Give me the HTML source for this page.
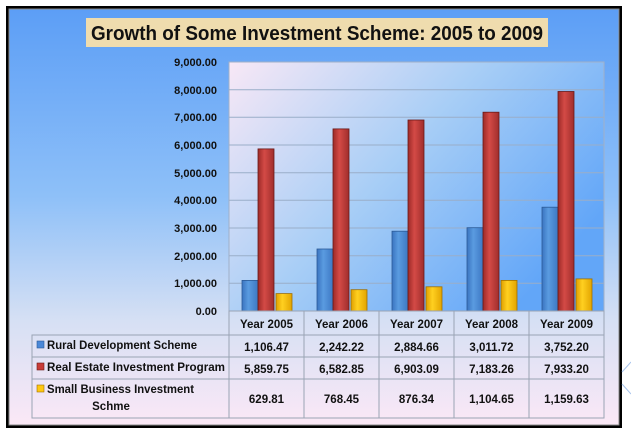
<!DOCTYPE html>
<html><head><meta charset="utf-8"><style>
html,body{margin:0;padding:0;background:#fff;width:631px;height:440px;overflow:hidden}
svg{display:block}
text{font-family:"Liberation Sans",sans-serif;font-weight:bold;fill:#111}
</style></head><body>
<svg width="631" height="440" viewBox="0 0 631 440" xmlns="http://www.w3.org/2000/svg">
<defs>
<linearGradient id="bg" x1="0" y1="0" x2="0" y2="1">
<stop offset="0" stop-color="#5c9ef6"/><stop offset="0.45" stop-color="#8ec0f8"/><stop offset="0.75" stop-color="#d6e0f4"/><stop offset="1" stop-color="#fbe8f6"/>
</linearGradient>
<linearGradient id="pa" x1="0" y1="0" x2="1" y2="0.6">
<stop offset="0" stop-color="#f8e8f6"/><stop offset="0.5" stop-color="#a8cef6"/><stop offset="1" stop-color="#62a6f8"/>
</linearGradient>
<linearGradient id="bl" x1="0" x2="1"><stop offset="0" stop-color="#3a74c0"/><stop offset="0.4" stop-color="#5a9be0"/><stop offset="1" stop-color="#3d78c4"/></linearGradient>
<linearGradient id="rd" x1="0" x2="1"><stop offset="0" stop-color="#9c2a28"/><stop offset="0.4" stop-color="#d44a46"/><stop offset="1" stop-color="#a02e2c"/></linearGradient>
<linearGradient id="yl" x1="0" x2="1"><stop offset="0" stop-color="#e0a000"/><stop offset="0.4" stop-color="#ffd020"/><stop offset="1" stop-color="#e2a400"/></linearGradient>
</defs>
<rect x="6" y="6" width="616" height="422" fill="#000"/>
<rect x="9" y="9" width="610" height="416" fill="url(#bg)" stroke="#8a8a8a" stroke-width="1"/>
<path d="M622 372 L631 362 M622 384 L631 394" stroke="#a8c4ec" stroke-width="1"/>
<rect x="86" y="18" width="462" height="29" fill="#efdcae"/>
<text x="91" y="40" font-size="20" textLength="452" lengthAdjust="spacingAndGlyphs">Growth of Some Investment Scheme: 2005 to 2009</text>
<rect x="229" y="62" width="375" height="249" fill="url(#pa)" stroke="#a0b0c8"/>
<g stroke="#9aaec8" stroke-width="1">
<line x1="229" x2="604" y1="89.7" y2="89.7"/><line x1="229" x2="604" y1="117.3" y2="117.3"/>
<line x1="229" x2="604" y1="145" y2="145"/><line x1="229" x2="604" y1="172.7" y2="172.7"/>
<line x1="229" x2="604" y1="200.3" y2="200.3"/><line x1="229" x2="604" y1="228" y2="228"/>
<line x1="229" x2="604" y1="255.7" y2="255.7"/><line x1="229" x2="604" y1="283.3" y2="283.3"/>
</g>
<g font-size="11" text-anchor="end">
<text x="217" y="66">9,000.00</text><text x="217" y="94">8,000.00</text><text x="217" y="121">7,000.00</text>
<text x="217" y="149">6,000.00</text><text x="217" y="177">5,000.00</text><text x="217" y="204">4,000.00</text>
<text x="217" y="232">3,000.00</text><text x="217" y="260">2,000.00</text><text x="217" y="287">1,000.00</text>
<text x="217" y="315">0.00</text>
</g>
<g stroke-width="0.8">
<rect x="242" y="280.4" width="16" height="30.6" fill="url(#bl)" stroke="#2c5a96"/>
<rect x="258" y="148.9" width="16" height="162.1" fill="url(#rd)" stroke="#6a1a18"/>
<rect x="276" y="293.6" width="16" height="17.4" fill="url(#yl)" stroke="#a07000"/>
<rect x="317" y="249" width="16" height="62" fill="url(#bl)" stroke="#2c5a96"/>
<rect x="333" y="128.9" width="16" height="182.1" fill="url(#rd)" stroke="#6a1a18"/>
<rect x="351" y="289.7" width="16" height="21.3" fill="url(#yl)" stroke="#a07000"/>
<rect x="392" y="231.2" width="16" height="79.8" fill="url(#bl)" stroke="#2c5a96"/>
<rect x="408" y="120" width="16" height="191" fill="url(#rd)" stroke="#6a1a18"/>
<rect x="426" y="286.8" width="16" height="24.2" fill="url(#yl)" stroke="#a07000"/>
<rect x="467" y="227.7" width="16" height="83.3" fill="url(#bl)" stroke="#2c5a96"/>
<rect x="483" y="112.2" width="16" height="198.8" fill="url(#rd)" stroke="#6a1a18"/>
<rect x="501" y="280.4" width="16" height="30.6" fill="url(#yl)" stroke="#a07000"/>
<rect x="542" y="207.2" width="16" height="103.8" fill="url(#bl)" stroke="#2c5a96"/>
<rect x="558" y="91.5" width="16" height="219.5" fill="url(#rd)" stroke="#6a1a18"/>
<rect x="576" y="278.9" width="16" height="32.1" fill="url(#yl)" stroke="#a07000"/>
</g>
<g stroke="#9aa4b4" stroke-width="1" fill="none">
<rect x="229" y="311" width="375" height="24"/>
<rect x="32" y="335" width="572" height="83"/>
<line x1="32" x2="604" y1="357" y2="357"/><line x1="32" x2="604" y1="379" y2="379"/>
<line x1="229" x2="229" y1="311" y2="418"/><line x1="304" x2="304" y1="311" y2="418"/>
<line x1="379" x2="379" y1="311" y2="418"/><line x1="454" x2="454" y1="311" y2="418"/>
<line x1="529" x2="529" y1="311" y2="418"/>
</g>
<g font-size="11.5" text-anchor="middle">
<text x="266.5" y="328">Year 2005</text><text x="341.5" y="328">Year 2006</text><text x="416.5" y="328">Year 2007</text><text x="491.5" y="328">Year 2008</text><text x="566.5" y="328">Year 2009</text>
<text x="266.5" y="351">1,106.47</text><text x="341.5" y="351">2,242.22</text><text x="416.5" y="351">2,884.66</text><text x="491.5" y="351">3,011.72</text><text x="566.5" y="351">3,752.20</text>
<text x="266.5" y="373">5,859.75</text><text x="341.5" y="373">6,582.85</text><text x="416.5" y="373">6,903.09</text><text x="491.5" y="373">7,183.26</text><text x="566.5" y="373">7,933.20</text>
<text x="266.5" y="403">629.81</text><text x="341.5" y="403">768.45</text><text x="416.5" y="403">876.34</text><text x="491.5" y="403">1,104.65</text><text x="566.5" y="403">1,159.63</text>
</g>
<rect x="37" y="341" width="7" height="7" fill="#4a88d8" stroke="#2c5a96" stroke-width="0.6"/>
<rect x="37" y="363" width="7" height="7" fill="#c83c38" stroke="#6a1a18" stroke-width="0.6"/>
<rect x="37" y="385" width="7" height="7" fill="#ffc810" stroke="#a07000" stroke-width="0.6"/>
<g font-size="11.5">
<text x="47" y="349" textLength="150" lengthAdjust="spacingAndGlyphs">Rural Development Scheme</text>
<text x="47" y="371" textLength="178" lengthAdjust="spacingAndGlyphs">Real Estate  Investment Program</text>
<text x="47" y="393" textLength="147" lengthAdjust="spacingAndGlyphs">Small Business Investment</text>
<text x="111" y="410" text-anchor="middle">Schme</text>
</g>
</svg>
</body></html>
